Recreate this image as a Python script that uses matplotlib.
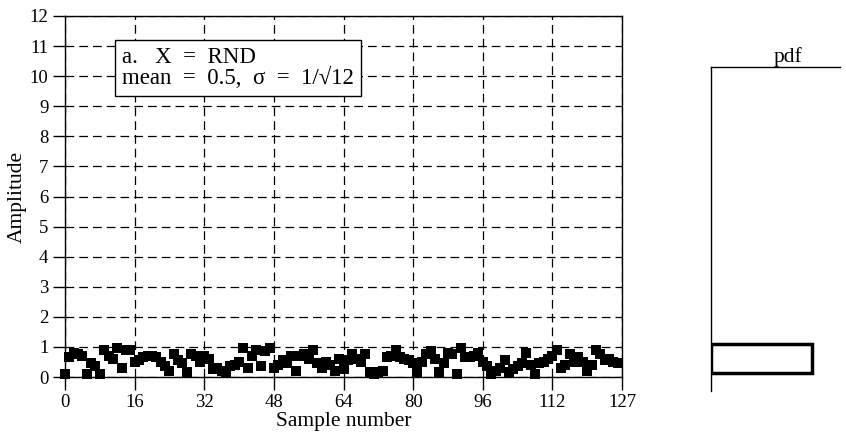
import numpy as np
import matplotlib
matplotlib.use("Agg")
import matplotlib.pyplot as plt

plt.rcParams["font.family"] = ["Liberation Serif", "DejaVu Serif"]

# samples (X = RND, uniform 0..1)
sample_number = list(range(128))
amplitude = [
    0.10, 0.65, 0.80, 0.75, 0.70, 0.10, 0.45, 0.35, 0.10, 0.90, 0.70, 0.60, 0.95, 0.30, 0.90, 0.90,
    0.50, 0.55, 0.65, 0.70, 0.70, 0.65, 0.50, 0.35, 0.20, 0.75, 0.55, 0.45, 0.15, 0.75, 0.70, 0.50,
    0.70, 0.60, 0.25, 0.30, 0.20, 0.15, 0.35, 0.40, 0.50, 0.95, 0.30, 0.70, 0.90, 0.35, 0.85, 0.95,
    0.30, 0.40, 0.55, 0.45, 0.70, 0.20, 0.70, 0.75, 0.60, 0.90, 0.45, 0.30, 0.50, 0.40, 0.20, 0.60,
    0.25, 0.55, 0.75, 0.60, 0.50, 0.75, 0.15, 0.10, 0.15, 0.20, 0.65, 0.70, 0.90, 0.65, 0.60, 0.55,
    0.45, 0.15, 0.50, 0.75, 0.85, 0.60, 0.15, 0.45, 0.80, 0.75, 0.10, 0.95, 0.65, 0.65, 0.70, 0.80,
    0.50, 0.35, 0.10, 0.20, 0.30, 0.55, 0.15, 0.25, 0.35, 0.45, 0.80, 0.40, 0.10, 0.45, 0.50, 0.60,
    0.70, 0.90, 0.30, 0.40, 0.75, 0.50, 0.65, 0.50, 0.20, 0.40, 0.90, 0.75, 0.55, 0.60, 0.50, 0.45,
]

x_ticks = [0, 16, 32, 48, 64, 80, 96, 112, 128]
x_ticklabels = ["0", "16", "32", "48", "64", "80", "96", "112", "127"]
y_ticks = list(range(13))

# pdf of the uniform distribution
pdf_bin_low = [0.0]
pdf_bin_high = [1.0]
pdf_value = [1.0]

W, H = 846, 438
fig = plt.figure(figsize=(W / 100, H / 100), dpi=100)

def px_axes(l, t, r, b):
    return fig.add_axes([l / W, 1 - b / H, (r - l) / W, (b - t) / H])

ax = px_axes(65, 16, 622, 377)
ax.plot(sample_number, amplitude, "s", color="black", markersize=7.5,
        markeredgewidth=0, clip_on=False, zorder=3)
ax.set_xlim(0, 128)
ax.set_ylim(0, 12)
ax.set_xticks(x_ticks)
ax.set_xticklabels(x_ticklabels)
ax.set_yticks(y_ticks)
ax.grid(True, color="black", linestyle=(0, (7, 4)), linewidth=0.9)
ax.tick_params(direction="out", length=9, width=1, labelsize=13.5, colors="black", pad=3)
for s in ax.spines.values():
    s.set_linewidth(1)
ax.set_xlabel("Sample number", fontsize=15.5, labelpad=1)
ax.set_ylabel("Amplitude", fontsize=15.5, labelpad=2)

ax.text(0.103, 0.915, "a.   X  =  RND\nmean  =  0.5,  σ  =  1/√12", transform=ax.transAxes,
        fontsize=16.5, va="top", ha="left", linespacing=0.95,
        bbox=dict(boxstyle="square,pad=0.3", facecolor="white", edgecolor="black", linewidth=1))

# pdf panel
ax2 = px_axes(711, 67, 840, 391)
for lo, hi, v in zip(pdf_bin_low, pdf_bin_high, pdf_value):
    ax2.barh((lo + hi) / 2, v, height=hi - lo, left=0, fill=False, edgecolor="black", linewidth=2.5)
ax2.set_xlim(0, 1.277)
ax2.set_ylim(-0.62, 10.55)
ax2.set_xticks([])
ax2.set_yticks([])
ax2.spines["right"].set_visible(False)
ax2.spines["bottom"].set_visible(False)
ax2.spines["left"].set_linewidth(1)
ax2.spines["top"].set_linewidth(1)
ax2.set_title("pdf", fontsize=15.5, x=0.6, pad=3)

fig.savefig("out.png", dpi=100)
